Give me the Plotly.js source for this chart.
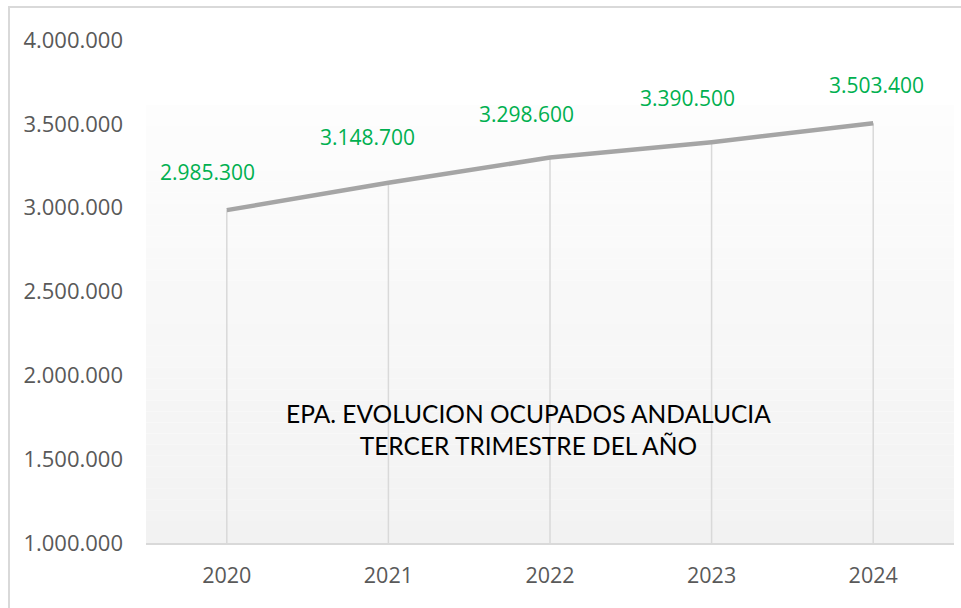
<!DOCTYPE html>
<html>
<head>
<meta charset="utf-8">
<script src="https://cdn.plot.ly/plotly-3.0.1.min.js"></script>
<style>
  html, body { margin: 0; padding: 0; background: #ffffff; }
  #wrap { position: relative; width: 961px; height: 608px; overflow: hidden; }
  #chart { width: 961px; height: 608px; }
  #frame { position: absolute; left: 8px; top: 6px; width: 970px; height: 620px;
           border-left: 2px solid #d9d9d9; border-top: 2px solid #d9d9d9; pointer-events: none; }
</style>
</head>
<body>
<div id="wrap">
  <div id="chart"></div>
  <div id="frame"></div>
</div>
<script>
const years = ['2020', '2021', '2022', '2023', '2024'];
const ocupados = [2985300, 3148700, 3298600, 3390500, 3503400];
const yTickVals = [1000000, 1500000, 2000000, 2500000, 3000000, 3500000, 4000000];
const titleLines = ['EPA. EVOLUCION OCUPADOS ANDALUCIA', 'TERCER TRIMESTRE DEL AÑO'];

const yMin = 1000000, yMax = 4000000;
function fmt(n) { return String(n).replace(/\B(?=(\d{3})+(?!\d))/g, '.'); }

// drop lines from each point down to the axis
const dropX = [], dropY = [];
years.forEach((yr, i) => { dropX.push(yr, yr, null); dropY.push(yMin, ocupados[i], null); });

const traces = [
  { x: dropX, y: dropY, type: 'scatter', mode: 'lines', hoverinfo: 'skip',
    line: { color: '#d9d9d9', width: 1.5 }, showlegend: false },
  { x: years, y: ocupados, type: 'scatter', mode: 'lines',
    line: { color: '#a5a5a5', width: 4.5 }, showlegend: false }
];

// label offsets (style)
const lblDx = [-19, -21, -24, -24, 3];
const lblDy = [38, 46, 44, 44, 38];
const annotations = years.map((yr, i) => ({
  x: i, y: ocupados[i], xref: 'x', yref: 'y', text: fmt(ocupados[i]),
  showarrow: false, xshift: lblDx[i], yshift: lblDy[i],
  font: { family: '"Open Sans", sans-serif', size: 21, color: '#00b050' }
}));
annotations.push({
  xref: 'paper', yref: 'paper', x: 0.474, y: 0.2247, xanchor: 'center', yanchor: 'middle',
  text: titleLines.join('<br>'), showarrow: false, align: 'center',
  font: { family: 'Lato, sans-serif', size: 24.5, color: '#000000' }
});

// background gradient strips
const shapes = [];
const nStrips = 40, gTop = 0.871;
for (let k = 0; k < nStrips; k++) {
  const t = k / (nStrips - 1);
  const c = Math.round(253 - (253 - 242) * t);
  shapes.push({ type: 'rect', xref: 'paper', yref: 'paper', layer: 'below',
    x0: 0, x1: 1, y1: gTop - gTop * k / nStrips, y0: gTop - gTop * (k + 1) / nStrips,
    fillcolor: `rgb(${c},${c},${c})`, line: { width: 0 } });
}

const layout = {
  width: 961, height: 608,
  margin: { l: 146, r: 7, t: 40, b: 65 },
  paper_bgcolor: '#ffffff', plot_bgcolor: 'rgba(0,0,0,0)',
  separators: ',.',
  showlegend: false,
  xaxis: { type: 'category', range: [-0.5, 4.5], showgrid: false, zeroline: false,
    showline: true, linecolor: '#d9d9d9', linewidth: 2, ticks: '',
    tickfont: { family: '"Open Sans", sans-serif', size: 21.5, color: '#595959' }, ticklabelstandoff: 12 },
  yaxis: { range: [yMin, yMax], tickvals: yTickVals, ticktext: yTickVals.map(fmt),
    showgrid: false, zeroline: false, showline: false, ticks: '',
    tickfont: { family: '"Open Sans", sans-serif', size: 22, color: '#595959' }, ticklabelstandoff: 22 },
  annotations: annotations,
  shapes: shapes
};

Plotly.newPlot('chart', traces, layout, { staticPlot: true, displayModeBar: false });
</script>
</body>
</html>
